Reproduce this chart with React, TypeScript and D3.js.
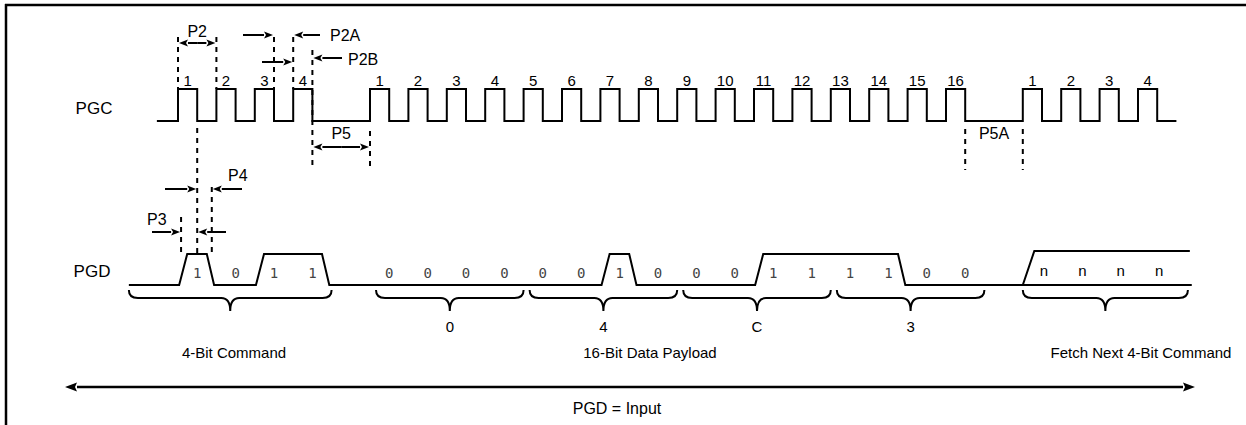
import React from "react";
import * as d3 from "d3";

// ---- data ----
const pgcPulseCycles = [0, 1, 2, 3, 5, 6, 7, 8, 9, 10, 11, 12, 13, 14, 15, 16, 17, 18, 19, 20, 22, 23, 24, 25];
const pgcPulseLabels = ["1", "2", "3", "4", "1", "2", "3", "4", "5", "6", "7", "8", "9", "10", "11", "12", "13", "14", "15", "16", "1", "2", "3", "4"];
const commandBits = [1, 0, 1, 1];
const payloadBits = [0, 0, 0, 0, 0, 0, 1, 0, 0, 0, 1, 1, 1, 1, 0, 0];
const nextCommandBits = ["n", "n", "n", "n"];
const nibbleLabels = ["0", "4", "C", "3"];
const groupLabels = ["4-Bit Command", "16-Bit Data Payload", "Fetch Next 4-Bit Command"];
const commandStart = 0;
const payloadStart = 5;
const nextStart = 22;

const W = 1246;
const H = 425;
const FONT = "'Liberation Sans', Arial, Helvetica, sans-serif";
const MONO = "'DejaVu Sans Mono', 'Liberation Mono', monospace";

const x = d3.scaleLinear().domain([0, 25]).range([178, 178 + 25 * 38.4]);

const PGC_LOW = 121;
const PGC_HIGH = 89;
const PGD_LOW = 285;
const PGD_HIGH = 254;
const PGD_N_HIGH = 251;

function pgcPath(): string {
  const pts: [number, number][] = [[x(-0.55), PGC_LOW]];
  pgcPulseCycles.forEach((c) => {
    pts.push([x(c), PGC_LOW], [x(c), PGC_HIGH], [x(c + 0.5), PGC_HIGH], [x(c + 0.5), PGC_LOW]);
  });
  pts.push([x(26.0), PGC_LOW]);
  return d3.line()(pts) as string;
}

function pgdPath(): string {
  const seq: [number, number][] = [];
  commandBits.forEach((b, i) => seq.push([commandStart + i, b]));
  seq.push([4, 0]);
  payloadBits.forEach((b, i) => seq.push([payloadStart + i, b]));
  seq.push([21, 0]);
  const pts: [number, number][] = [[x(-1.28), PGD_LOW]];
  let prev = 0;
  seq.forEach(([k, b]) => {
    if (b === 1 && prev === 0) {
      pts.push([x(k + 0.03), PGD_LOW], [x(k + 0.24), PGD_HIGH]);
    } else if (b === 0 && prev === 1) {
      pts.push([x(k - 0.25), PGD_HIGH], [x(k - 0.06), PGD_LOW]);
    }
    prev = b;
  });
  pts.push([x(26.4), PGD_LOW]);
  return d3.line()(pts) as string;
}

function bracePath(x1: number, x2: number): string {
  const y0 = 290, y1 = 298, y2 = 311, r = 9;
  const m = (x1 + x2) / 2;
  const p = d3.path();
  p.moveTo(x1, y0);
  p.quadraticCurveTo(x1, y1, x1 + r, y1);
  p.lineTo(m - r, y1);
  p.quadraticCurveTo(m, y1, m, y2);
  p.quadraticCurveTo(m, y1, m + r, y1);
  p.lineTo(x2 - r, y1);
  p.quadraticCurveTo(x2, y1, x2, y0);
  return p.toString();
}

const Dash = ({ xv, y1, y2 }: { xv: number; y1: number; y2: number }) => (
  <line x1={xv} x2={xv} y1={y1} y2={y2} stroke="#000" strokeWidth={2} strokeDasharray="5,5" />
);

const Arrow = ({ x1, x2, y, hl = 9, hw = 3.5, sw = 2 }: { x1: number; x2: number; y: number; hl?: number; hw?: number; sw?: number }) => {
  const dir = x2 > x1 ? 1 : -1;
  const base = x2 - dir * hl;
  return (
    <g>
      <line x1={x1} x2={base} y1={y} y2={y} stroke="#000" strokeWidth={sw} />
      <path d={`M${x2},${y} L${base},${y - hw} L${base + dir * 2},${y} L${base},${y + hw} Z`} fill="#000" />
    </g>
  );
};

const DoubleArrow = ({ x1, x2, y }: { x1: number; x2: number; y: number }) => {
  const m = (x1 + x2) / 2;
  return (
    <g>
      <Arrow x1={m} x2={x1} y={y} />
      <Arrow x1={m} x2={x2} y={y} />
    </g>
  );
};

export default function App() {
  const t = { fontFamily: FONT, fill: "#000" } as const;
  const braces: [number, number][] = [
    [x(-1.28), x(4)],
    ...nibbleLabels.map((_, j) => [x(payloadStart + 4 * j) + 6, x(payloadStart + 4 * j + 4)] as [number, number]),
    [x(nextStart), x(26.3)],
  ];
  return (
    <svg width={W} height={H} style={{ position: "absolute", left: 0, top: 0, background: "#fff" }}>
      <rect x={0} y={0} width={W} height={H} fill="#fff" />
      {/* frame */}
      <line x1={5} x2={W} y1={5} y2={5} stroke="#000" strokeWidth={2.5} />
      <line x1={6} x2={6} y1={4} y2={H} stroke="#000" strokeWidth={2.5} />

      {/* signal names */}
      <text x={94} y={114} textAnchor="middle" fontSize={17} {...t}>PGC</text>
      <text x={92} y={277} textAnchor="middle" fontSize={17} {...t}>PGD</text>

      {/* clock */}
      <path d={pgcPath()} fill="none" stroke="#000" strokeWidth={2} />
      {pgcPulseCycles.map((c, i) => (
        <text key={i} x={x(c + 0.25)} y={86} textAnchor="middle" fontSize={15} {...t}>{pgcPulseLabels[i]}</text>
      ))}

      {/* data */}
      <path d={pgdPath()} fill="none" stroke="#000" strokeWidth={2} />
      <path
        d={d3.line()([[x(nextStart), PGD_LOW], [x(nextStart + 0.3), PGD_N_HIGH], [x(26.35), PGD_N_HIGH]]) as string}
        fill="none" stroke="#000" strokeWidth={2}
      />
      {commandBits.map((b, i) => (
        <text key={"c" + i} x={x(commandStart + i + 0.5)} y={278} textAnchor="middle" fontSize={14} fontFamily={MONO} fill="#444">{b}</text>
      ))}
      {payloadBits.map((b, i) => (
        <text key={"p" + i} x={x(payloadStart + i + 0.5)} y={278} textAnchor="middle" fontSize={14} fontFamily={MONO} fill="#444">{b}</text>
      ))}
      {nextCommandBits.map((b, i) => (
        <text key={"n" + i} x={x(nextStart + i + 0.55)} y={276} textAnchor="middle" fontSize={15} {...t}>{b}</text>
      ))}

      {/* braces */}
      {braces.map(([a, b], i) => (
        <path key={i} d={bracePath(a, b)} fill="none" stroke="#000" strokeWidth={2} />
      ))}
      {nibbleLabels.map((l, j) => (
        <text key={j} x={(braces[j + 1][0] + braces[j + 1][1]) / 2} y={332} textAnchor="middle" fontSize={15} {...t}>{l}</text>
      ))}
      <text x={234} y={358} textAnchor="middle" fontSize={15} {...t}>{groupLabels[0]}</text>
      <text x={650} y={358} textAnchor="middle" fontSize={15} {...t}>{groupLabels[1]}</text>
      <text x={1141} y={358} textAnchor="middle" fontSize={15} {...t}>{groupLabels[2]}</text>

      {/* timing annotations */}
      <Dash xv={x(0)} y1={37} y2={89} />
      <Dash xv={x(1)} y1={37} y2={89} />
      <DoubleArrow x1={x(0) + 1} x2={x(1) - 1} y={43} />
      <text x={x(0.5)} y={37} textAnchor="middle" fontSize={16} {...t}>P2</text>

      <Dash xv={x(2.5)} y1={37} y2={89} />
      <Dash xv={x(3)} y1={37} y2={89} />
      <Arrow x1={243} x2={x(2.5) - 1} y={35} />
      <Arrow x1={320} x2={x(3) + 1} y={35} />
      <text x={330} y={41} fontSize={16} {...t}>P2A</text>

      <Dash xv={x(3.5)} y1={50} y2={170} />
      <Arrow x1={262} x2={x(3) - 1} y={62} />
      <Arrow x1={342} x2={x(3.5) + 1} y={58} />
      <text x={348} y={65} fontSize={16} {...t}>P2B</text>

      <Dash xv={x(5)} y1={131} y2={170} />
      <DoubleArrow x1={x(3.5) + 1} x2={x(5) - 1} y={147} />
      <text x={x(4.25)} y={139} textAnchor="middle" fontSize={16} {...t}>P5</text>

      <Dash xv={x(20.5)} y1={129} y2={170} />
      <Dash xv={x(22)} y1={129} y2={170} />
      <text x={x(21.25)} y={139} textAnchor="middle" fontSize={16} {...t}>P5A</text>

      <Dash xv={x(0.5)} y1={128} y2={258} />
      <Dash xv={x(0.88)} y1={187} y2={256} />
      <Arrow x1={165} x2={x(0.5) - 1} y={189} />
      <Arrow x1={242} x2={x(0.88) + 1} y={189} />
      <text x={228} y={181} fontSize={16} {...t}>P4</text>

      <Dash xv={x(0.08)} y1={217} y2={256} />
      <Arrow x1={152} x2={x(0.08) - 1} y={232} />
      <Arrow x1={226} x2={x(0.5) + 1} y={232} />
      <text x={147} y={225} fontSize={16} {...t}>P3</text>

      {/* PGD = Input arrow */}
      <Arrow x1={630} x2={65} y={387} hl={12} hw={4.5} sw={2.5} />
      <Arrow x1={630} x2={1195} y={387} hl={12} hw={4.5} sw={2.5} />
      <text x={617} y={414} textAnchor="middle" fontSize={16} {...t}>PGD = Input</text>
    </svg>
  );
}
